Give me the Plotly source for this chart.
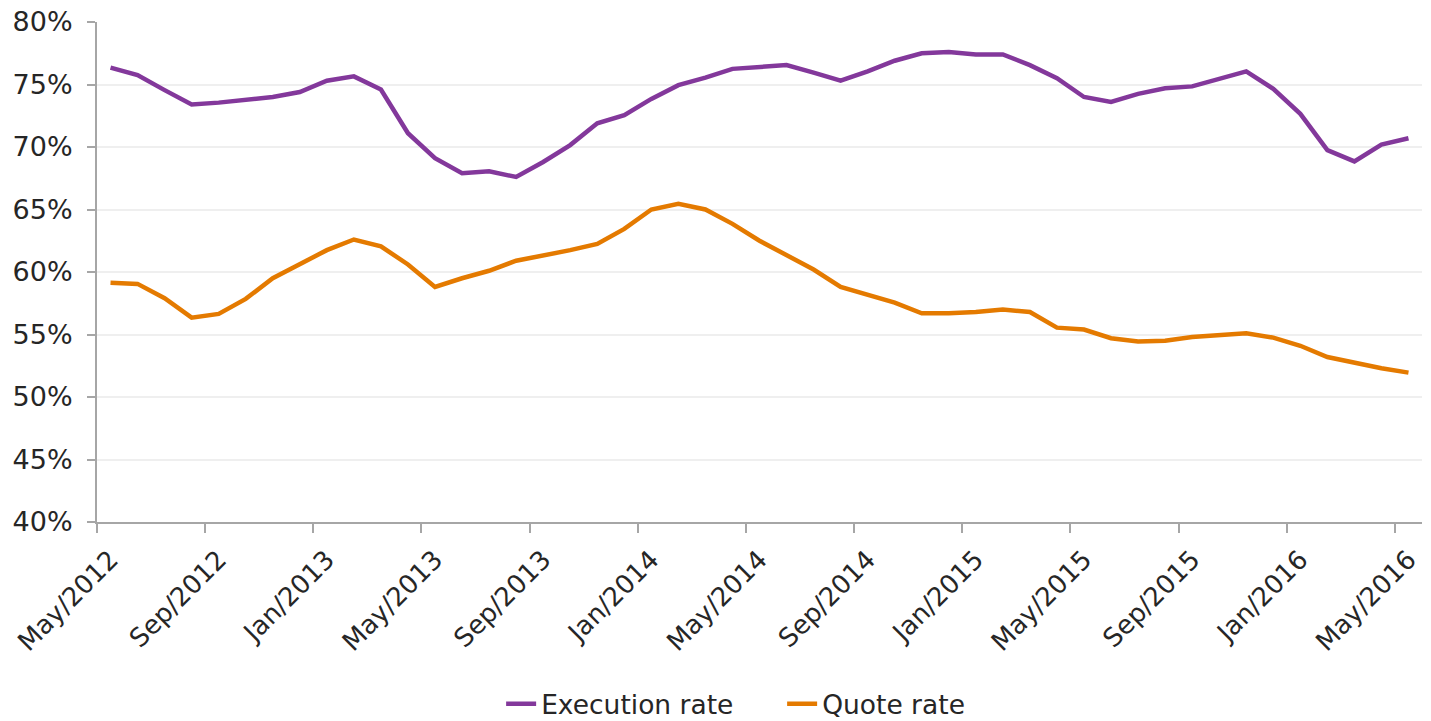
import plotly.graph_objects as go

MONTH_NAMES = ["Jan", "Feb", "Mar", "Apr", "May", "Jun",
               "Jul", "Aug", "Sep", "Oct", "Nov", "Dec"]
months = ([f"{m}/2012" for m in MONTH_NAMES[4:]]
          + [f"{m}/2013" for m in MONTH_NAMES]
          + [f"{m}/2014" for m in MONTH_NAMES]
          + [f"{m}/2015" for m in MONTH_NAMES]
          + [f"{m}/2016" for m in MONTH_NAMES[:5]])

execution_rate = [
    76.35, 75.75, 74.55, 73.40, 73.55, 73.75, 74.00, 74.40, 75.30, 75.65,
    74.60, 71.10, 69.10, 67.90, 68.05, 67.60, 68.80, 70.15, 71.90, 72.55,
    73.85, 74.95, 75.55, 76.25, 76.40, 76.55, 75.95, 75.30, 76.05, 76.90,
    77.50, 77.60, 77.40, 77.40, 76.55, 75.50, 74.00, 73.60, 74.25, 74.70,
    74.85, 75.45, 76.05, 74.65, 72.65, 69.75, 68.85, 70.20, 70.70,
]

quote_rate = [
    59.15, 59.05, 57.90, 56.35, 56.65, 57.85, 59.50, 60.60, 61.75, 62.60,
    62.05, 60.60, 58.80, 59.50, 60.10, 60.90, 61.30, 61.75, 62.25, 63.45,
    65.00, 65.45, 65.00, 63.85, 62.50, 61.30, 60.20, 58.80, 58.20, 57.55,
    56.70, 56.70, 56.80, 57.00, 56.80, 55.55, 55.40, 54.70, 54.45, 54.50,
    54.80, 54.95, 55.10, 54.75, 54.10, 53.20, 52.75, 52.30, 51.95,
]

tick_labels = ["May/2012", "Sep/2012", "Jan/2013", "May/2013", "Sep/2013",
               "Jan/2014", "May/2014", "Sep/2014", "Jan/2015", "May/2015",
               "Sep/2015", "Jan/2016", "May/2016"]

PURPLE = "#83389B"
ORANGE = "#E47A00"
AXIS = "#A6A6A6"
GRID = "#EFEFEF"
TEXT = "#262626"

x = list(range(len(months)))
label_pos = [months.index(t) for t in tick_labels]

fig = go.Figure()
fig.add_trace(go.Scatter(x=x, y=execution_rate, mode="lines", name="Execution rate",
                         line=dict(color=PURPLE, width=4.5)))
fig.add_trace(go.Scatter(x=x, y=quote_rate, mode="lines", name="Quote rate",
                         line=dict(color=ORANGE, width=4.5)))

fig.update_layout(
    width=1431, height=721,
    margin=dict(l=97, r=9, t=22, b=199, autoexpand=False),
    plot_bgcolor="white", paper_bgcolor="white",
    font=dict(family="DejaVu Sans", size=26, color=TEXT),
    showlegend=True,
    legend=dict(orientation="h", x=0.305, xanchor="left",
                yref="container", y=0.0236, yanchor="middle",
                font=dict(size=26.5), entrywidth=236, entrywidthmode="pixels"),
    xaxis=dict(
        range=[-0.5, len(months) - 0.5],
        tickmode="array", tickvals=label_pos, ticktext=tick_labels,
        tickangle=-45, ticks="", showgrid=False, zeroline=False,
        ticklabelstandoff=10, automargin=False, ticklabeloverflow="allow",
        showline=True, linecolor=AXIS, linewidth=2,
        minor=dict(tickmode="array", tickvals=[p - 0.5 for p in label_pos],
                   ticks="outside", ticklen=9, tickwidth=2, tickcolor=AXIS,
                   showgrid=False),
    ),
    yaxis=dict(
        range=[40, 80], tickmode="linear", tick0=40, dtick=5, ticksuffix="%",
        tickfont=dict(size=27), automargin=False, ticklabeloverflow="allow",
        showgrid=True, gridcolor=GRID, gridwidth=2, zeroline=False,
        showline=True, linecolor=AXIS, linewidth=2,
        ticks="outside", ticklen=8, tickwidth=2, tickcolor=AXIS,
        ticklabelstandoff=9,
    ),
)

# remove the browser's default 8px page margin so the figure fills the window
fig.write_html("out.html",
               config={"displayModeBar": False},
               post_script="document.body.style.margin='0';"
                           "document.body.style.overflow='hidden';")
